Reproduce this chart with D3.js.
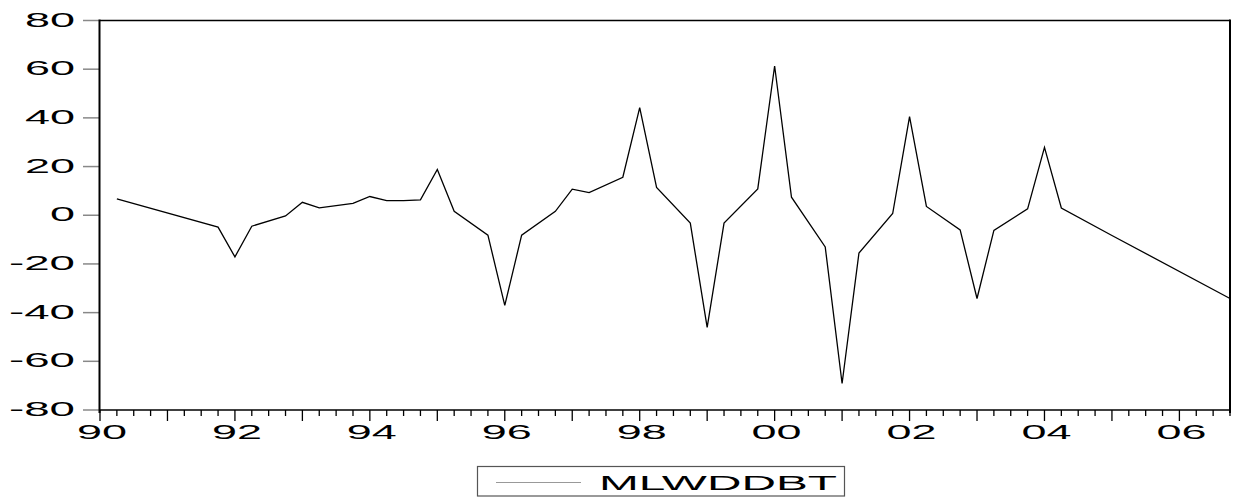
<!DOCTYPE html>
<html>
<head>
<meta charset="utf-8">
<script src="https://cdn.jsdelivr.net/npm/d3@7"></script>
<style>
  body { margin: 0; background: #fff; }
  text { font-family: "Liberation Sans", Arial, sans-serif; fill: #000; }
</style>
</head>
<body>
<div id="plot"></div>
<script>
// quarterly observations (only the vertices visible on the chart)
const quarters = ["1990Q2", "1991Q4", "1992Q1", "1992Q2", "1992Q4", "1993Q1", "1993Q2", "1993Q4",
  "1994Q1", "1994Q2", "1994Q3", "1994Q4", "1995Q1", "1995Q2", "1995Q4", "1996Q1", "1996Q2",
  "1996Q4", "1997Q1", "1997Q2", "1997Q4", "1998Q1", "1998Q2", "1998Q4", "1999Q1", "1999Q2",
  "1999Q4", "2000Q1", "2000Q2", "2000Q4", "2001Q1", "2001Q2", "2001Q4", "2002Q1", "2002Q2",
  "2002Q4", "2003Q1", "2003Q2", "2003Q4", "2004Q1", "2004Q2", "2005Q1", "2006Q4"];
const values = [6.7, -4.9, -17.1, -4.5, -0.3, 5.3, 3.0, 4.9,
  7.7, 6.0, 6.0, 6.3, 18.8, 1.6, -8.2, -37.0, -8.2,
  1.6, 10.7, 9.3, 15.6, 44.2, 11.4, -3.2, -46.1, -3.2,
  10.8, 61.3, 7.4, -13.0, -69.1, -15.5, 0.7, 40.5, 3.6,
  -6.0, -34.2, -6.2, 2.6, 27.9, 3.0, -8.3, -34.2];
const yTicks = [-80, -60, -40, -20, 0, 20, 40, 60, 80];
const xLabelYears = [1990, 1992, 1994, 1996, 1998, 2000, 2002, 2004, 2006];
const seriesName = "MLWDDBT";

const width = 1236, height = 502;
const plotLeft = 100, plotRight = 1230, plotTop = 20.5, plotBottom = 410;

function toYear(q) {
  return +q.slice(0, 4) + (+q.slice(5) - 1) / 4;
}

// stretched label width, like the wide EViews font
function labelWidth(s) {
  const digits = s.replace("-", "").length;
  return digits * 25 + (s[0] === "-" ? 16 : 0);
}

const data = quarters.map(function(q, i) {
  return { t: toYear(q), v: values[i] };
});

const svg = d3.select("div#plot")
  .append("svg")
  .attr("width", width)
  .attr("height", height);

const x = d3.scaleLinear()
  .domain([1990, 2006.75])
  .range([plotLeft, plotRight]);

const y = d3.scaleLinear()
  .domain([-80, 80])
  .range([plotBottom, plotTop]);

// y axis ticks and labels
svg.selectAll(".ytick")
  .data(yTicks)
  .join("line")
  .attr("class", "ytick")
  .attr("x1", plotLeft - 17)
  .attr("x2", plotLeft)
  .attr("y1", d => y(d))
  .attr("y2", d => y(d))
  .attr("stroke", "#888")
  .attr("stroke-width", 1.5);

svg.selectAll(".ylabel")
  .data(yTicks)
  .join("text")
  .attr("class", "ylabel")
  .attr("x", d => 75 - labelWidth(String(d)))
  .attr("y", d => y(d) + 6)
  .attr("textLength", d => labelWidth(String(d)))
  .attr("lengthAdjust", "spacingAndGlyphs")
  .style("font-size", "21px")
  .text(d => d);

// x axis quarter ticks
const qTicks = d3.range(0, 68).map(i => 1990 + i / 4);
svg.selectAll(".xtick")
  .data(qTicks)
  .join("line")
  .attr("class", "xtick")
  .attr("x1", d => x(d))
  .attr("x2", d => x(d))
  .attr("y1", plotBottom)
  .attr("y2", d => Number.isInteger(d) ? plotBottom + 11 : plotBottom + 6)
  .attr("stroke", "#000")
  .attr("stroke-width", 1.3);

svg.selectAll(".xlabel")
  .data(xLabelYears)
  .join("text")
  .attr("class", "xlabel")
  .attr("x", d => x(d) + 2 - 25)
  .attr("y", 439)
  .attr("textLength", 50)
  .attr("lengthAdjust", "spacingAndGlyphs")
  .style("font-size", "21px")
  .text(d => String(d).slice(2));

// frame
svg.append("line")
  .attr("x1", plotLeft).attr("x2", plotRight)
  .attr("y1", plotTop).attr("y2", plotTop)
  .attr("stroke", "#000").attr("stroke-width", 1.5);
svg.append("line")
  .attr("x1", plotLeft).attr("x2", plotRight)
  .attr("y1", plotBottom).attr("y2", plotBottom)
  .attr("stroke", "#000").attr("stroke-width", 1.5);
svg.append("line")
  .attr("x1", plotLeft - 0.5).attr("x2", plotLeft - 0.5)
  .attr("y1", plotTop - 1).attr("y2", plotBottom + 3)
  .attr("stroke", "#000").attr("stroke-width", 2);
svg.append("line")
  .attr("x1", plotRight).attr("x2", plotRight)
  .attr("y1", plotTop - 1).attr("y2", plotBottom + 3)
  .attr("stroke", "#000").attr("stroke-width", 2);

// series
const line = d3.line()
  .x(d => x(d.t))
  .y(d => y(d.v));

svg.append("path")
  .datum(data)
  .attr("d", line)
  .attr("fill", "none")
  .attr("stroke", "#000")
  .attr("stroke-width", 1.3)
  .attr("stroke-linejoin", "miter");

// legend
const legend = svg.append("g");
legend.append("rect")
  .attr("x", 477.5)
  .attr("y", 466.5)
  .attr("width", 367)
  .attr("height", 29.5)
  .attr("fill", "none")
  .attr("stroke", "#555")
  .attr("stroke-width", 1.2);
legend.append("line")
  .attr("x1", 496).attr("x2", 581)
  .attr("y1", 482.5).attr("y2", 482.5)
  .attr("stroke", "#999")
  .attr("stroke-width", 1.2);
legend.append("text")
  .attr("x", 599)
  .attr("y", 489.5)
  .attr("textLength", 238)
  .attr("lengthAdjust", "spacingAndGlyphs")
  .style("font-size", "20px")
  .text(seriesName);
</script>
</body>
</html>
